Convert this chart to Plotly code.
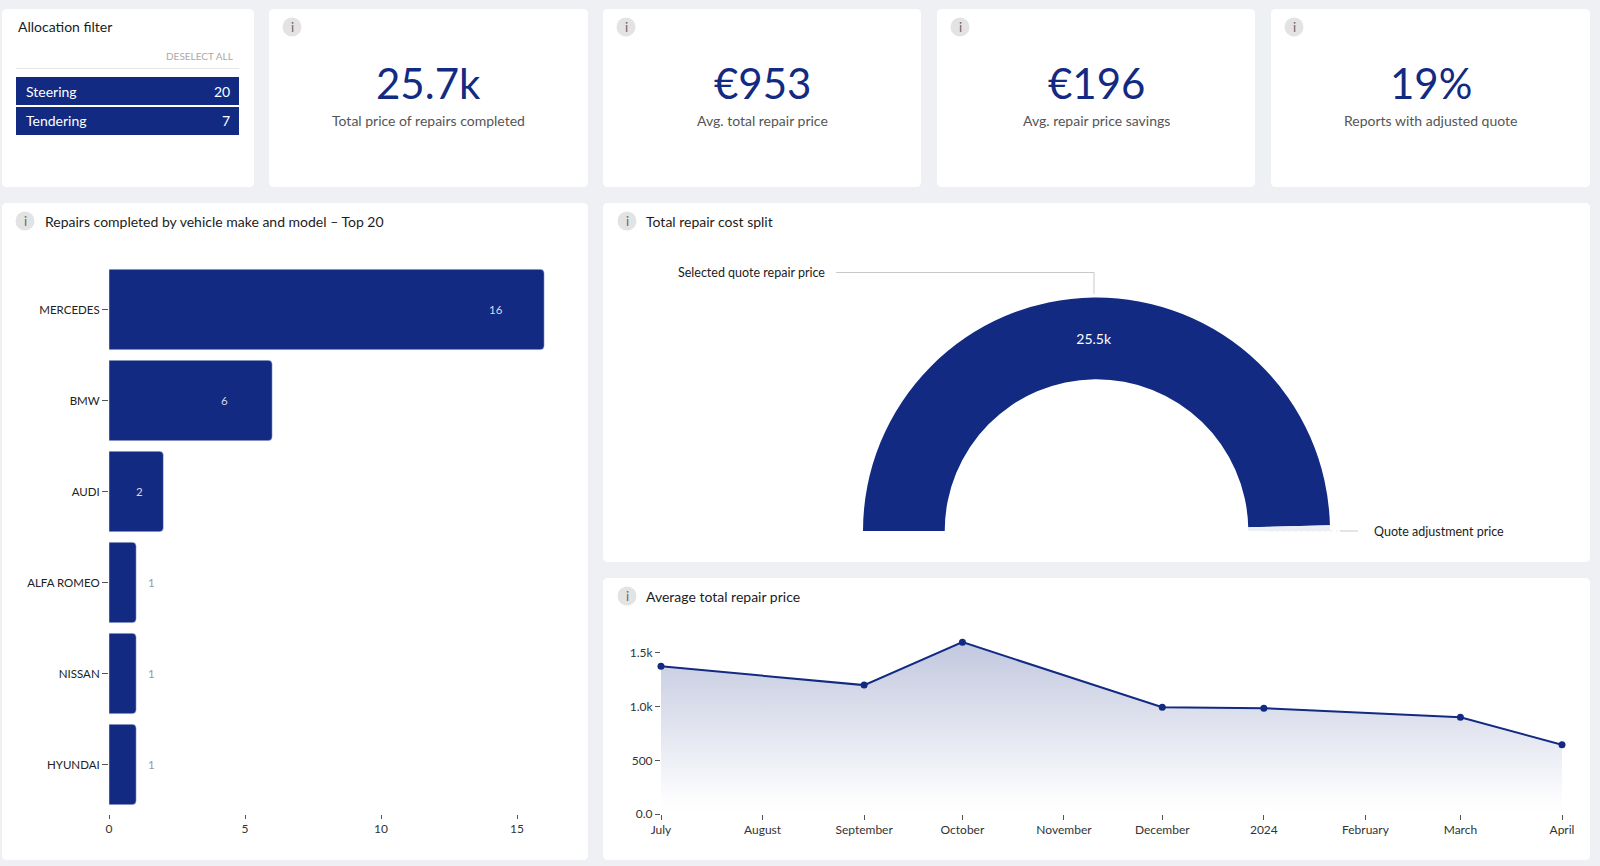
import plotly.graph_objects as go

W, H = 1600, 866
NAVY = '#122a82'
FONT = 'Lato'

# filter panel
filter_names = ['Steering', 'Tendering']
filter_counts = [20, 7]

# KPI cards
kpi_values = ['25.7k', '€953', '€196', '19%']
kpi_labels = ['Total price of repairs completed', 'Avg. total repair price', 'Avg. repair price savings', 'Reports with adjusted quote']

# bar chart
makes = ['MERCEDES', 'BMW', 'AUDI', 'ALFA ROMEO', 'NISSAN', 'HYUNDAI']
repairs = [16, 6, 2, 1, 1, 1]
bar_ticks = [0, 5, 10, 15]

# half donut
split_names = ['Selected quote repair price', 'Quote adjustment price']
split_values = [25500, 200]
split_total = 25700
split_labels = ['25.5k', '']

# line chart
price_dates = ['2023-07-01', '2023-09-01', '2023-10-01', '2023-12-01', '2024-01-01', '2024-03-01', '2024-04-01']
price_values = [1375, 1200, 1600, 995, 985, 900, 645]
month_ticks = ['2023-07-01', '2023-08-01', '2023-09-01', '2023-10-01', '2023-11-01', '2023-12-01',
               '2024-01-01', '2024-02-01', '2024-03-01', '2024-04-01']
month_labels = ['July', 'August', 'September', 'October', 'November', 'December', '2024', 'February', 'March', 'April']
price_ticks = [0, 500, 1000, 1500]
price_tick_labels = ['0.0', '500', '1.0k', '1.5k']


def px(x):
    return x / W


def py(y):
    return 1 - y / H


def card(x0, y0, x1, y1, r=5):
    return dict(
        type = 'path', xref = 'paper', yref = 'paper', layer = 'below',
        fillcolor = 'white', line = dict(width = 0),
        path = (f'M {px(x0 + r)} {py(y0)} L {px(x1 - r)} {py(y0)} Q {px(x1)} {py(y0)} {px(x1)} {py(y0 + r)} '
                f'L {px(x1)} {py(y1 - r)} Q {px(x1)} {py(y1)} {px(x1 - r)} {py(y1)} '
                f'L {px(x0 + r)} {py(y1)} Q {px(x0)} {py(y1)} {px(x0)} {py(y1 - r)} '
                f'L {px(x0)} {py(y0 + r)} Q {px(x0)} {py(y0)} {px(x0 + r)} {py(y0)} Z'))


def rect(x0, y0, x1, y1, color):
    return dict(type = 'rect', xref = 'paper', yref = 'paper', x0 = px(x0), x1 = px(x1), y0 = py(y0), y1 = py(y1),
                fillcolor = color, line = dict(width = 0), layer = 'below')


def seg(x0, y0, x1, y1, color = '#c9c9c9', dash = 'solid'):
    return dict(type = 'line', xref = 'paper', yref = 'paper', x0 = px(x0), x1 = px(x1), y0 = py(y0), y1 = py(y1),
                line = dict(color = color, width = 1, dash = dash))


def label(x, y, text, size = 14, color = '#1c1c1c', anchor = 'left'):
    return dict(xref = 'paper', yref = 'paper', x = px(x), y = py(y), text = text, showarrow = False,
                xanchor = anchor, yanchor = 'middle', font = dict(size = size, color = color, family = FONT))


def info(x, y):
    shapes.append(dict(type = 'circle', xref = 'paper', yref = 'paper', x0 = px(x - 9.5), x1 = px(x + 9.5),
                       y0 = py(y - 9.5), y1 = py(y + 9.5), fillcolor = '#e3e3e3', line = dict(width = 0)))
    annotations.append(label(x, y, 'i', 13, '#666666', 'center'))


shapes = []
annotations = []

# 카드 배경
kpi_x = [(269, 588), (603, 921), (937, 1255), (1271, 1590)]
shapes.append(card(2, 9, 254, 187))
for x0, x1 in kpi_x:
    shapes.append(card(x0, 9, x1, 187))
shapes.append(card(2, 203, 588, 860))
shapes.append(card(603, 203, 1590, 562))
shapes.append(card(603, 578, 1590, 860))

# 필터 패널
annotations.append(label(16, 27, 'Allocation filter'))
annotations.append(label(235, 56, 'DESELECT ALL', 10, '#a9a9a9', 'right'))
shapes.append(seg(16, 68.5, 239, 68.5, '#e6e6e6'))
for i, name in enumerate(filter_names):
    top = 77 + i * 30
    shapes.append(rect(16, top, 239, top + 28, NAVY))
    annotations.append(label(24, top + 14, name, 14, 'white'))
    annotations.append(label(232, top + 14, str(filter_counts[i]), 14, 'white', 'right'))

# KPI
for i, (x0, x1) in enumerate(kpi_x):
    info(x0 + 23, 27)
    annotations.append(label((x0 + x1) / 2, 83, kpi_values[i], 42, NAVY, 'center'))
    annotations.append(label((x0 + x1) / 2, 121, kpi_labels[i], 14, '#555555', 'center'))

# 패널 제목
info(25, 221)
annotations.append(label(43, 221, 'Repairs completed by vehicle make and model – Top 20'))
info(627, 221)
annotations.append(label(644, 221, 'Total repair cost split'))
info(627, 596)
annotations.append(label(644, 596, 'Average total repair price'))

fig = go.Figure()

# 막대 그래프
fig.add_trace(go.Bar(
    x = repairs, y = makes, orientation = 'h', marker = dict(color = NAVY, cornerradius = 4),
    width = 0.885, hoverinfo = 'skip', xaxis = 'x', yaxis = 'y'))
for make, value in zip(makes, repairs):
    shift = -48 if value > 2 else (-24 if value == 2 else 15)
    annotations.append(dict(
        xref = 'x', yref = 'y', x = value, y = make, text = str(value), showarrow = False, xshift = shift,
        font = dict(size = 11.5, color = '#d8d8e4' if value > 1 else '#999999', family = FONT)))

# 반원 도넛
fig.add_trace(go.Pie(
    values = split_values + [split_total], text = split_labels + [''], textinfo = 'text', textposition = 'inside',
    insidetextorientation = 'horizontal', textfont = dict(size = 14, color = 'white', family = FONT),
    sort = False, direction = 'clockwise', rotation = -90, hole = 0.65, showlegend = False, hoverinfo = 'skip',
    marker = dict(colors = [NAVY, '#eceef5', 'rgba(0,0,0,0)'], line = dict(width = 0)),
    domain = dict(x = [px(863), px(1330)], y = [py(764.5), py(297.5)])))
annotations.append(label(676, 273, split_names[0], 12.5))
shapes.append(seg(836, 272.5, 1094, 272.5))
shapes.append(seg(1094, 272.5, 1094, 294))
annotations.append(label(1372, 531, split_names[1], 12.5))
shapes.append(seg(1340, 531, 1358, 531))
shapes.append(seg(1270, 531, 1338, 531, '#eeeeee', 'dot'))

# 영역 그래프
fig.add_trace(go.Scatter(
    x = price_dates, y = price_values, mode = 'lines+markers', xaxis = 'x2', yaxis = 'y2', cliponaxis = False,
    line = dict(color = NAVY, width = 2), marker = dict(color = NAVY, size = 7), hoverinfo = 'skip',
    fill = 'tozeroy',
    fillgradient = dict(type = 'vertical', colorscale = [[0, 'rgba(18,42,130,0)'], [0.08, 'rgba(18,42,130,0.01)'], [1, 'rgba(18,42,130,0.26)']])))

tick_font = dict(size = 12, color = '#333333', family = FONT)
fig.update_layout(
    {
        'width' : W, 'height' : H, 'margin' : dict(l = 0, r = 0, t = 0, b = 0, autoexpand = False),
        'paper_bgcolor' : '#eff0f3', 'plot_bgcolor' : 'rgba(0,0,0,0)',
        'showlegend' : False, 'shapes' : shapes, 'annotations' : annotations,
        'xaxis' : {
            'domain' : [px(109), px(558)], 'range' : [0, 449 / 27.2], 'anchor' : 'free', 'position' : py(814),
            'tickvals' : bar_ticks, 'ticks' : 'outside', 'ticklen' : 4, 'tickcolor' : '#555555', 'tickwidth' : 1,
            'showgrid' : False, 'zeroline' : False, 'showline' : False, 'tickfont' : tick_font},
        'yaxis' : {
            'domain' : [py(810), py(264)], 'autorange' : 'reversed', 'anchor' : 'x', 'ticks' : 'outside', 'ticklen' : 6,
            'tickcolor' : '#555555', 'tickwidth' : 1, 'showgrid' : False, 'zeroline' : False, 'showline' : False,
            'tickfont' : dict(size = 11.5, color = '#222222', family = FONT)},
        'xaxis2' : {
            'domain' : [px(661), px(1562)], 'range' : ['2023-07-01', '2024-04-01'], 'type' : 'date', 'anchor' : 'y2',
            'tickvals' : month_ticks, 'ticktext' : month_labels, 'ticks' : 'outside', 'ticklen' : 5,
            'tickcolor' : '#555555', 'tickwidth' : 1, 'showgrid' : False, 'zeroline' : False, 'showline' : False,
            'tickfont' : tick_font},
        'yaxis2' : {
            'domain' : [py(814), py(620)], 'range' : [0, 194 / 0.1074], 'anchor' : 'x2',
            'tickvals' : price_ticks, 'ticktext' : price_tick_labels, 'ticks' : 'outside', 'ticklen' : 5,
            'tickcolor' : '#555555', 'tickwidth' : 1, 'showgrid' : False, 'zeroline' : False, 'showline' : False,
            'tickfont' : tick_font}
    })

fig.write_html("out.html", config = {'displayModeBar' : False}, post_script = "document.body.style.margin='0';")
